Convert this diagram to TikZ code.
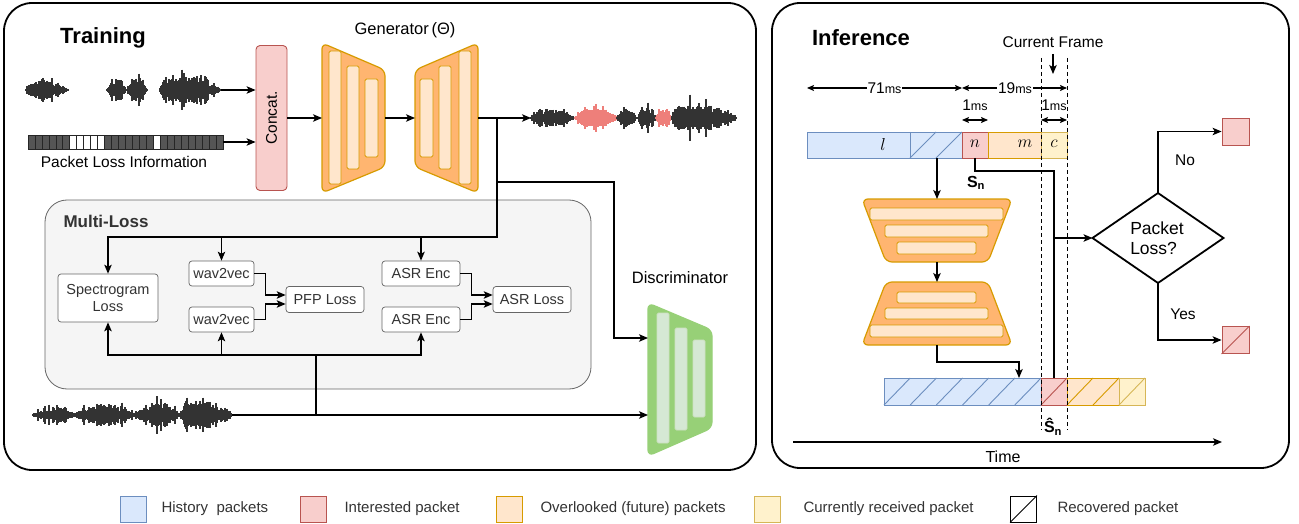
\documentclass[tikz,border=0pt]{standalone}
\usepackage{fontspec}
\setmainfont{Liberation Sans}
\usetikzlibrary{arrows.meta,calc}

\definecolor{orF}{HTML}{FFB570}
\definecolor{orS}{HTML}{D79B00}
\definecolor{orL}{HTML}{FFE6CC}
\definecolor{grF}{HTML}{97D077}
\definecolor{grS}{HTML}{82B366}
\definecolor{grL}{HTML}{D5E8D4}
\definecolor{rdF}{HTML}{F8CECC}
\definecolor{rdS}{HTML}{B85450}
\definecolor{blF}{HTML}{DAE8FC}
\definecolor{blS}{HTML}{6C8EBF}
\definecolor{ylF}{HTML}{FFF2CC}
\definecolor{ylS}{HTML}{D6B656}
\definecolor{wv}{HTML}{333333}
\definecolor{wvr}{HTML}{EE7F7A}
\definecolor{mlF}{HTML}{F5F5F5}
\definecolor{mlS}{HTML}{666666}
\definecolor{txt}{HTML}{333333}
\definecolor{plg}{HTML}{555555}

% waveform blob: x0, x1, y, amplitude, skew exponent, colour
\newcommand{\wavblob}[6]{%
  \pgfmathsetmacro{\wbB}{#1+1.0}%
  \foreach \xx in {#1,\wbB,...,#2}{%
    \pgfmathsetmacro{\wt}{(\xx-#1)/(#2-#1)}%
    \pgfmathsetmacro{\ws}{max(sin(180*((\wt+0.001)^#5)),0.0001)}%
    \pgfmathsetmacro{\wr}{rnd}%
    \pgfmathsetmacro{\wh}{#4*(\ws^0.7)*(0.38+0.62*\wr)*(1+0.45*(\wr^8))+0.8}%
    \draw[#6,line width=1.2pt] (\xx,#3-\wh) -- (\xx,#3+\wh);
  }%
}

\begin{document}
\begin{tikzpicture}[x=1pt,y=-1pt,
  arr/.style={-{Stealth[length=9pt,width=7.5pt,inset=2.2pt]},line width=1.1pt},
  darr/.style={{Stealth[length=7pt,width=6pt,inset=1.5pt]}-{Stealth[length=7pt,width=6pt,inset=1.5pt]},line width=1.1pt},
  panel/.style={draw,line width=1.8pt,rounded corners=28pt,inner sep=0pt},
  mlbox/.style={draw=mlS,fill=white,rounded corners=3pt,line width=0.7pt,inner sep=0pt,text=txt,font=\fontsize{14.5}{16.5}\selectfont,align=center},
  ghost/.style={inner sep=0pt,outer sep=0pt},
  lbl/.style={font=\fontsize{15.5}{18}\selectfont},
  lgt/.style={anchor=west,font=\fontsize{15}{17}\selectfont,text=txt},
  ttl/.style={font=\bfseries\fontsize{22}{26}\selectfont},
  orpath/.style={draw=orS,fill=orF,line width=1.2pt,rounded corners=6pt},
  orbar/.style={draw=orS,fill=orL,line width=0.8pt,rounded corners=1.5pt},
  grpath/.style={draw=grF,fill=grF,line width=1.2pt,rounded corners=6pt},
  grbar/.style={draw=grS!40,fill=grL,line width=0.8pt,rounded corners=1.5pt},
  cell/.style={line width=0.9pt,inner sep=0pt,outer sep=0pt},
  dsh/.style={line width=0.9pt,dash pattern=on 4pt off 3pt},
  lgsq/.style={line width=0.9pt,minimum size=26pt,inner sep=0pt},
  mth/.style={font=\fontsize{19}{21}\selectfont}
]
\useasboundingbox (0,0) rectangle (1299,524);
\pgfmathsetseed{11}

% ---------------- panels
\node[panel,minimum width=752,minimum height=467] (trainp) at (380,236.5) {};
\node[panel,minimum width=517,minimum height=465] (infp) at (1030.5,235.5) {};
\node[ttl] (ttrain) at (103,38) {Training};
\node[ttl] (tinf) at (861,38) {Inference};

% ---------------- Training: inputs
\wavblob{26}{68}{90}{10}{0.8}{wv}
\wavblob{107}{126}{90}{12}{1}{wv}
\wavblob{127}{147}{90}{14}{1}{wv}
\wavblob{160}{221}{90}{15}{0.6}{wv}
\coordinate (w1) at (221,90);

\node[ghost,minimum width=195,minimum height=14] (plbar) at (125.5,142) {};
\fill[plg] (plbar.north west) rectangle (plbar.south east);
\foreach \i in {6,7,8,9,10,18}{
  \fill[white] ($(plbar.south west)+(\i*6.964,0)$) rectangle ++(6.964,-14);
}
\foreach \i in {1,...,27}{
  \draw[black!85,line width=0.7pt] ($(plbar.south west)+(\i*6.964,0)$) -- ++(0,-14);
}
\draw[black!85,line width=0.9pt] (plbar.north west) rectangle (plbar.south east);
\node[lbl] (pltext) at (124,162) {Packet Loss Information};

\node[draw=rdS,fill=rdF,rounded corners=4pt,line width=0.9pt,minimum width=31,minimum height=145,inner sep=0] (concat) at (271.5,118) {};
\node[rotate=90,lbl] (concatt) at (concat) {Concat.};

\draw[arr] (w1) -- (w1 -| concat.west);
\draw[arr] (plbar.east) -- (plbar.east -| concat.west);

% ---------------- Generator
\node[ghost,minimum width=63,minimum height=150] (genenc) at (353.5,118) {};
\node[ghost,minimum width=63,minimum height=150] (gendec) at (446.5,118) {};
\draw[orpath] (322,43) -- (385,70) -- (385,167) -- (322,193) -- cycle;
\draw[orbar] (329,51) rectangle (341,184);
\draw[orbar] (347,66) rectangle (359,169);
\draw[orbar] (365,79) rectangle (378,157);
\draw[orpath] (415,70) -- (478,43) -- (478,193) -- (415,167) -- cycle;
\draw[orbar] (420,79) rectangle (433,157);
\draw[orbar] (439,66) rectangle (451,169);
\draw[orbar] (459,51) rectangle (471,184);
\node[font=\fontsize{16.5}{19}\selectfont] (gent) at (405,30) {Generator\,(Θ)};

\draw[arr] (concat.east) -- (genenc.west);
\draw[arr] (genenc.east) -- (gendec.west);

% output waveform
\draw[wv,line width=0.8pt] (531,118) -- (736,118);
\wavblob{531}{575}{118}{9}{0.7}{wv}
\wavblob{575}{617}{118}{10}{1}{wvr}
\wavblob{617}{636}{118}{11}{1}{wv}
\wavblob{638}{656}{118}{12}{1}{wv}
\wavblob{656}{672}{118}{9}{1}{wvr}
\wavblob{672}{736}{118}{16}{0.6}{wv}
\coordinate (wout) at (531,118);
\draw[arr] (gendec.east) -- (wout);

% ---------------- Multi-Loss
\node[draw=mlS,fill=mlF,rounded corners=22pt,line width=0.8pt,minimum width=546,minimum height=189,inner sep=0] (mlp) at (318,294.5) {};
\node[font=\bfseries\fontsize{17}{19}\selectfont,text=txt] (mlt) at (106,221) {Multi-Loss};

\node[mlbox,minimum width=100,minimum height=48] (spec) at (108,298) {Spectrogram\\Loss};
\node[mlbox,minimum width=65,minimum height=25] (wavA) at (221.5,273.5) {wav2vec};
\node[mlbox,minimum width=65,minimum height=25] (wavB) at (221.5,319.5) {wav2vec};
\node[mlbox,minimum width=78,minimum height=26] (pfp) at (325,299.5) {PFP Loss};
\node[mlbox,minimum width=78,minimum height=25] (asrA) at (421,273.5) {ASR Enc};
\node[mlbox,minimum width=78,minimum height=25] (asrB) at (421,319.5) {ASR Enc};
\node[mlbox,minimum width=78,minimum height=26] (asrL) at (532,299.5) {ASR Loss};

\coordinate (br) at (497,118);
\coordinate (ml) at (497,237);
\draw[arr] (br) -- (ml) -| (spec.north);
\draw[arr] (wavA.north |- ml) -- (wavA.north);
\draw[arr] (asrA.north |- ml) -- (asrA.north);

\draw[arr] (wavA.east) -- ($(wavA.east)+(11,0)$) |- ($(pfp.west)+(0,-4.5)$);
\draw[arr] (wavB.east) -- ($(wavB.east)+(11,0)$) |- ($(pfp.west)+(0,4.5)$);
\draw[arr] (asrA.east) -- ($(asrA.east)+(11,0)$) |- ($(asrL.west)+(0,-4.5)$);
\draw[arr] (asrB.east) -- ($(asrB.east)+(11,0)$) |- ($(asrL.west)+(0,4.5)$);

% ---------------- Discriminator
\node[ghost,minimum width=64,minimum height=152] (disc) at (680,379) {};
\draw[grpath] (648,303) -- (712,330) -- (712,428) -- (648,456) -- cycle;
\draw[grbar] (657,313) rectangle (669,443);
\draw[grbar] (675,328) rectangle (687,430);
\draw[grbar] (693,340) rectangle (705,417);
\node[font=\fontsize{16.5}{19}\selectfont] (disct) at (680,278) {Discriminator};

\coordinate (brd) at (497,182);
\coordinate (dturn) at (614,182);
\coordinate (din1) at (648,338);
\coordinate (din2) at (648,415);
\draw[arr] (brd) -- (dturn) |- (din1);

% bottom waveform
\draw[wv,line width=0.8pt] (33,415) -- (232,415);
\wavblob{33}{75}{415}{7}{1}{wv}
\wavblob{75}{135}{415}{11}{1}{wv}
\wavblob{135}{180}{415}{13}{1}{wv}
\wavblob{180}{232}{415}{15}{0.6}{wv}
\coordinate (wb) at (232,415);
\draw[arr] (wb) -- (din2);
\coordinate (jb) at (316,415);
\coordinate (jt) at (316,355);
\draw[line width=1.1pt] (jb) -- (jt);
\draw[arr] (jt) -| (spec.south);
\draw[arr] (jt) -| (asrB.south);
\draw[arr] (wavB.south |- jt) -- (wavB.south);

% ---------------- Inference: packet bar
\node[cell,draw=blS,fill=blF,minimum width=155,minimum height=26] (hist) at (884.5,145) {};
\draw[blS,line width=0.9pt] (910,132) -- (910,158);
\draw[blS,line width=0.9pt] (910,158) -- (936,132);
\draw[blS,line width=0.9pt] (936,158) -- (962,132);
\node[cell,draw=rdS,fill=rdF,minimum width=26,minimum height=26] (npk) at (975,145) {};
\node[cell,draw=orS,fill=orL,minimum width=53,minimum height=26] (mpk) at (1014.5,145) {};
\node[cell,draw=ylS,fill=ylF,minimum width=26,minimum height=26] (cpk) at (1054,145) {};
\node[mth] (lt) at (883,144) {$l$};
\node[mth] (nt) at (975,144) {$n$};
\node[mth] (mt) at (1025,144) {$m$};
\node[mth] (ct) at (1054,144) {$c$};

% dimensions
\coordinate (d0) at (807,88);
\coordinate (d1) at (962,88);
\coordinate (d2) at (1067,88);
\draw[darr] (d0) -- (d1);
\draw[darr] (d1) -- (d2);
\node[fill=white,inner sep=1pt] (t71) at (884.5,88) {{\fontsize{15.5}{15}\selectfont 71}{\fontsize{12.5}{12}\selectfont ms}};
\node[fill=white,inner sep=1pt] (t19) at (1015,88) {{\fontsize{15.5}{15}\selectfont 19}{\fontsize{12.5}{12}\selectfont ms}};
\coordinate (e0) at (962,120);
\coordinate (e1) at (988,120);
\coordinate (e2) at (1041,120);
\coordinate (e3) at (1067,120);
\draw[darr] (e0) -- (e1);
\draw[darr] (e2) -- (e3);
\node[inner sep=1pt] (t1a) at (975,105) {{\fontsize{15.5}{15}\selectfont 1}{\fontsize{12.5}{12}\selectfont ms}};
\node[inner sep=1pt] (t1b) at (1054,105) {{\fontsize{15.5}{15}\selectfont 1}{\fontsize{12.5}{12}\selectfont ms}};

\node[lbl] (cft) at (1053,42) {Current Frame};
\coordinate (cfa) at (1053,54);
\coordinate (cfb) at (1053,74);
\draw[arr] (cfa) -- (cfb);

% encoder / decoder
\node[ghost,minimum width=150,minimum height=63] (enc) at (937,230.5) {};
\node[ghost,minimum width=150,minimum height=63] (dec) at (937,313.5) {};
\draw[orpath] (862,199) -- (1012,199) -- (988,262) -- (886,262) -- cycle;
\draw[orbar] (870,208) rectangle (1003,220);
\draw[orbar] (885,225) rectangle (988,237);
\draw[orbar] (897,242) rectangle (976,254);
\draw[orpath] (886,282) -- (988,282) -- (1012,345) -- (862,345) -- cycle;
\draw[orbar] (897,292) rectangle (976,303);
\draw[orbar] (885,308) rectangle (988,319);
\draw[orbar] (870,325) rectangle (1003,337);

\draw[arr] (hist.south -| enc.north) -- (enc.north);
\draw[arr] (enc.south) -- (dec.north);

\node[font=\bfseries\fontsize{16}{18}\selectfont] (snl) at (976,183) {S\textsubscript{n}};

% reconstructed bar
\node[cell,draw=blS,fill=blF,minimum width=157,minimum height=27] (rhist) at (962.5,391.5) {};
\foreach \i in {0,...,5}{
  \draw[blS,line width=0.9pt] ($(rhist.south west)+(\i*26.17,0)$) -- ++(26.17,-27);
}
\node[cell,draw=rdS,fill=rdF,minimum width=26,minimum height=27] (rred) at (1054,391.5) {};
\draw[rdS,line width=0.9pt] (rred.south west) -- (rred.north east);
\node[cell,draw=orS,fill=orL,minimum width=52,minimum height=27] (rorg) at (1093,391.5) {};
\draw[orS,line width=0.9pt] (rorg.south west) -- ++(26,-27);
\draw[orS,line width=0.9pt] ($(rorg.south west)+(26,0)$) -- ++(26,-27);
\node[cell,draw=ylS,fill=ylF,minimum width=26,minimum height=27] (rylw) at (1132,391.5) {};
\draw[ylS,line width=0.9pt] (rylw.south west) -- (rylw.north east);

\coordinate (rin) at (1019,378);
\draw[arr] (dec.south) -- ++(0,17) -| (rin);

\node[font=\bfseries\fontsize{16}{18}\selectfont] (shl) at (1053,427) {Ŝ\textsubscript{n}};

% dashed current-frame lines
\coordinate (da0) at (1041,58);
\coordinate (da1) at (1041,430);
\coordinate (db0) at (1067,58);
\coordinate (db1) at (1067,430);
\draw[dsh] (da0) -- (da1);
\draw[dsh] (db0) -- (db1);

% decision
\node[ghost,minimum width=131,minimum height=90] (dia) at (1158,238) {};
\draw[line width=1.8pt,fill=white] (dia.north) -- (dia.east) -- (dia.south) -- (dia.west) -- cycle;
\node[font=\fontsize{17.5}{20}\selectfont,align=left] (diat) at (1157,238) {Packet\\Loss?};

\draw[line width=1.1pt] (npk.south) -- ++(0,13) -| (rred.north);
\draw[arr] (rred.north |- dia.west) -- (dia.west);

\node[lgsq,draw=rdS,fill=rdF,minimum size=27] (nosq) at (1235.5,131.5) {};
\node[lgsq,draw=rdS,fill=rdF,minimum size=27] (yessq) at (1235.5,340) {};
\draw[rdS,line width=0.9pt] (yessq.south west) -- (yessq.north east);
\draw[arr] (dia.north) |- (nosq.west);
\draw[arr] (dia.south) |- (yessq.west);
\node[lbl] (nol) at (1185,160) {No};
\node[lbl] (yesl) at (1183,314) {Yes};

% time axis
\coordinate (t0) at (793,442);
\coordinate (t1) at (1222,442);
\draw[arr] (t0) -- (t1);
\node[font=\fontsize{16}{18}\selectfont] (timel) at (1003,457) {Time};

% ---------------- legend
\node[lgsq,draw=blS,fill=blF] (lg1) at (133.5,509) {};
\node[lgt] (lg1t) at (158,509) {History\ \ packets};
\node[lgsq,draw=rdS,fill=rdF] (lg2) at (313,509) {};
\node[lgt] (lg2t) at (341,509) {Interested packet};
\node[lgsq,draw=orS,fill=orL] (lg3) at (509.5,509) {};
\node[lgt] (lg3t) at (537,509) {Overlooked (future) packets};
\node[lgsq,draw=ylS,fill=ylF] (lg4) at (767.5,509) {};
\node[lgt] (lg4t) at (800,509) {Currently received packet};
\node[lgsq,draw=black,fill=white] (lg5) at (1023.5,509) {};
\draw[line width=0.9pt] (lg5.south west) -- (lg5.north east);
\node[lgt] (lg5t) at (1054,509) {Recovered packet};
\end{tikzpicture}
\end{document}
